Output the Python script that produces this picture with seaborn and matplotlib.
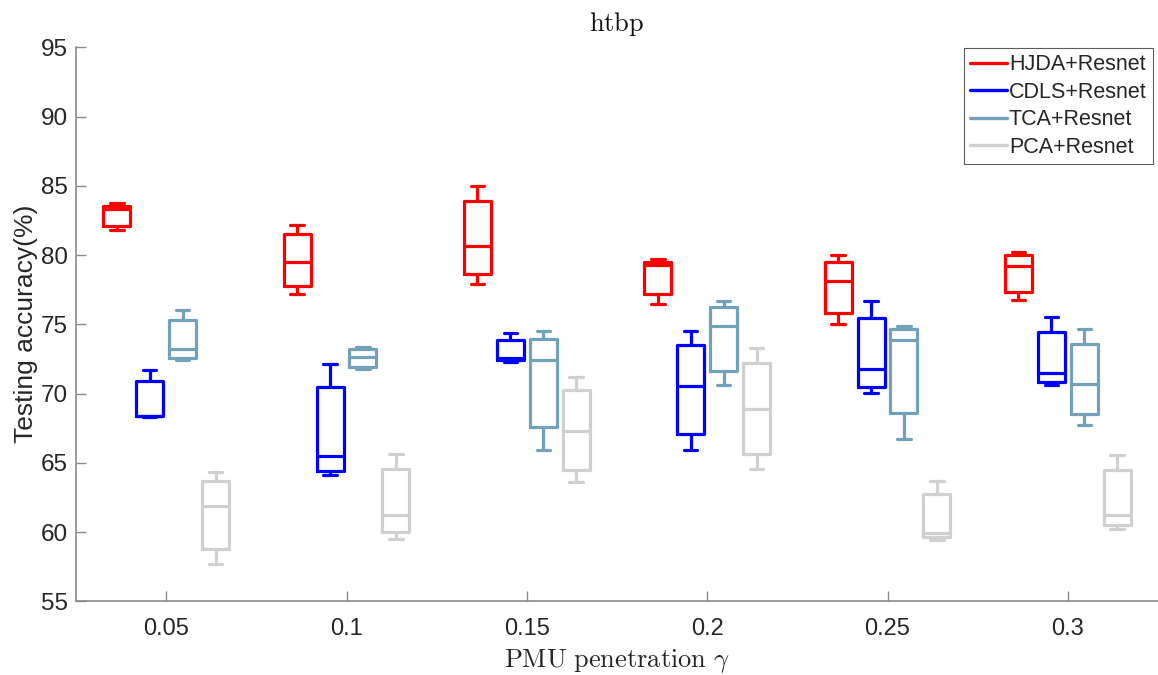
import numpy as np
import pandas as pd
import matplotlib
matplotlib.use("Agg")
import matplotlib.pyplot as plt
from matplotlib.lines import Line2D
import seaborn as sns

# PMU penetration levels on the x axis
gammas = ["0.05", "0.1", "0.15", "0.2", "0.25", "0.3"]
methods = ["HJDA+Resnet", "CDLS+Resnet", "TCA+Resnet", "PCA+Resnet"]
colors = ["#FF0000", "#0000FF", "#72A2BA", "#D0D0D0"]

# five-number summaries per penetration level: [min, q1, median, q3, max]
hjda = [
    [81.8, 82.1, 83.3, 83.55, 83.75],
    [77.2, 77.75, 79.5, 81.5, 82.15],
    [77.9, 78.6, 80.65, 83.9, 85.0],
    [76.5, 77.2, 79.25, 79.5, 79.7],
    [75.0, 75.85, 78.1, 79.5, 80.0],
    [76.75, 77.35, 79.2, 80.0, 80.25],
]
cdls = [
    [68.3, 68.35, 68.4, 70.9, 71.7],
    [64.1, 64.4, 65.5, 70.45, 72.1],
    [72.3, 72.4, 72.55, 73.9, 74.35],
    [65.9, 67.05, 70.55, 73.5, 74.5],
    [70.05, 70.5, 71.75, 75.45, 76.7],
    [70.65, 70.85, 71.45, 74.45, 75.5],
]
tca = [
    [72.45, 72.6, 73.25, 75.3, 76.0],
    [71.75, 71.95, 72.65, 73.2, 73.35],
    [65.9, 67.55, 72.4, 73.95, 74.5],
    [70.6, 71.6, 74.9, 76.25, 76.7],
    [66.75, 68.6, 73.85, 74.65, 74.9],
    [67.7, 68.5, 70.7, 73.6, 74.65],
]
pca = [
    [57.7, 58.8, 61.85, 63.7, 64.3],
    [59.5, 60.0, 61.25, 64.55, 65.6],
    [63.6, 64.5, 67.3, 70.25, 71.2],
    [64.55, 65.65, 68.85, 72.2, 73.3],
    [59.45, 59.65, 59.95, 62.75, 63.7],
    [60.25, 60.5, 61.25, 64.5, 65.55],
]

rows = []
for name, runs in zip(methods, [hjda, cdls, tca, pca]):
    for g, vals in zip(gammas, runs):
        for v in vals:
            rows.append({"gamma": g, "acc": v, "method": name})
df = pd.DataFrame(rows)

sns.set_theme(style="white")
plt.rcParams["font.family"] = ["Liberation Sans", "DejaVu Sans"]
plt.rcParams["mathtext.fontset"] = "cm"

fig = plt.figure(figsize=(11.58, 6.75), dpi=100)
ax = fig.add_axes([76 / 1158, 73.7 / 675, 1082 / 1158, 554 / 675])

sns.boxplot(
    data=df, x="gamma", y="acc", hue="method",
    order=gammas, hue_order=methods, palette=colors,
    fill=False, whis=(0, 100), width=0.73, gap=0.18,
    linewidth=2.3, showfliers=False, legend=False, ax=ax,
)

ax.set_xlim(-0.5, 5.5)
ax.set_ylim(55, 95)
ax.set_yticks(np.arange(55, 96, 5))

for side in ["top", "right"]:
    ax.spines[side].set_visible(False)
for side in ["left", "bottom"]:
    ax.spines[side].set_color("#8A8A8A")
    ax.spines[side].set_linewidth(1.2)

ax.tick_params(axis="both", direction="in", length=7, width=1,
               color="#8A8A8A", labelcolor="#262626")
ax.tick_params(axis="y", labelsize=17.5, pad=6)
ax.tick_params(axis="x", labelsize=17, pad=12)
ax.tick_params(left=True, bottom=True)

ax.set_ylabel("Testing accuracy(%)", fontsize=19, color="#262626", labelpad=2)
ax.set_xlabel(r"$\mathrm{PMU\ penetration}\ \gamma$", fontsize=19,
              color="#262626", labelpad=5)
ax.set_title(r"$\mathrm{htbp}$", fontsize=19, color="#111111", pad=12)

handles = [Line2D([], [], color=c, lw=2.4) for c in colors]
leg = ax.legend(
    handles, methods, loc="upper right",
    bbox_to_anchor=(1153 / 1158, 1 - 48 / 675), bbox_transform=fig.transFigure,
    borderaxespad=0, fontsize=15.5, frameon=True, fancybox=False,
    handlelength=1.7, handletextpad=0.1, labelspacing=0.3, borderpad=0.3,
)
leg.get_frame().set_edgecolor("#333333")
leg.get_frame().set_linewidth(0.8)

fig.savefig("out.png", dpi=100, facecolor="white")
